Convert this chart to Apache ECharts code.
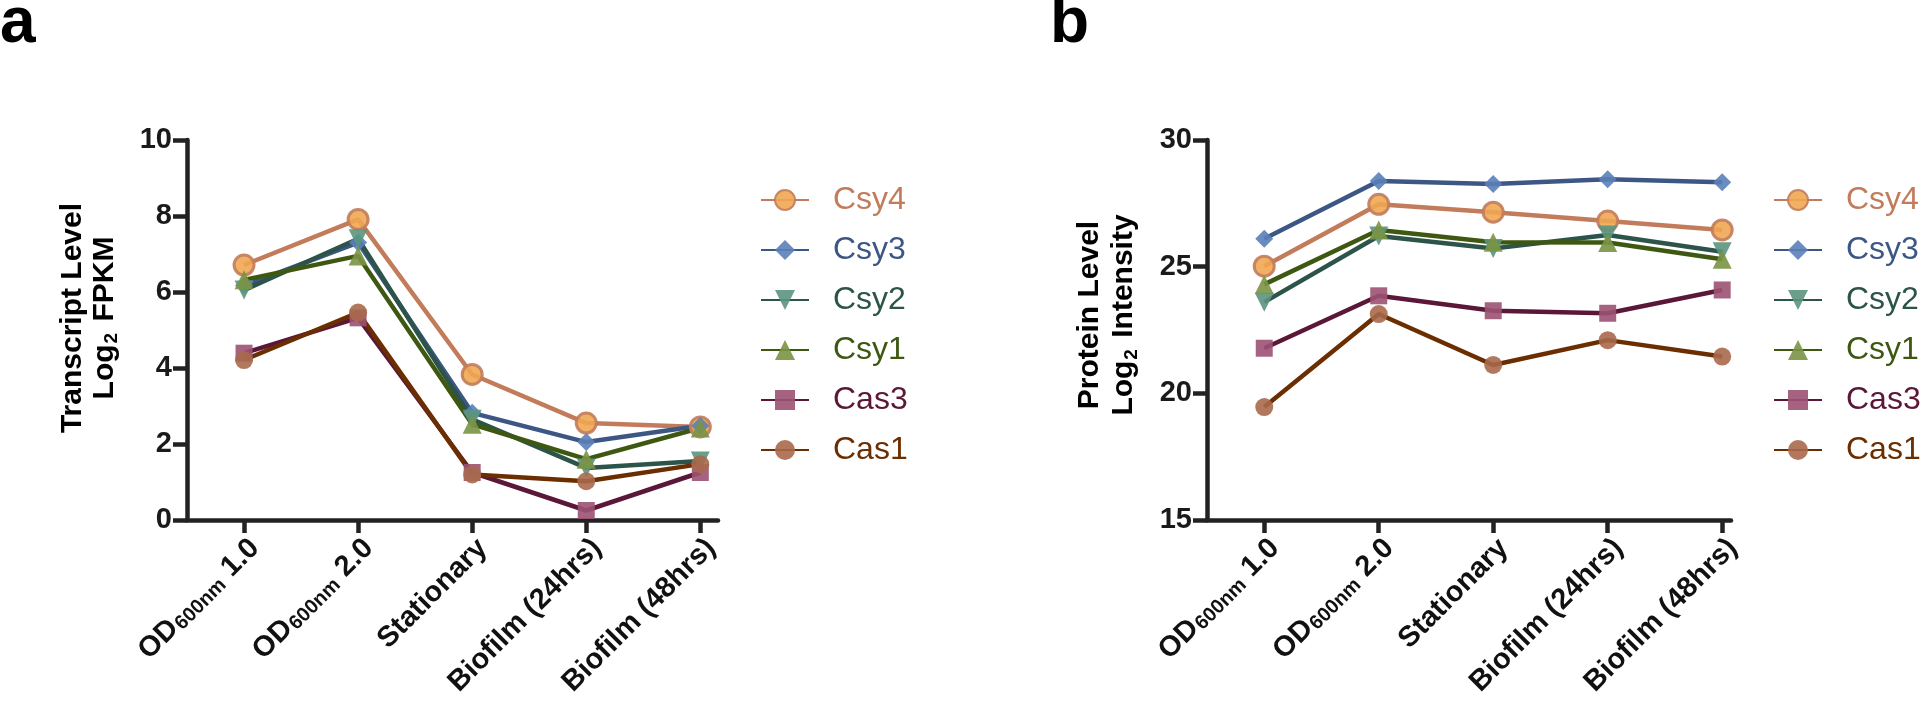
<!DOCTYPE html>
<html>
<head>
<meta charset="utf-8">
<script src="https://cdn.jsdelivr.net/npm/echarts@6/dist/echarts.min.js"></script>
<style>
html,body{margin:0;padding:0;background:#fff;}
#chart{width:1920px;height:701px;}
</style>
</head>
<body>
<div id="chart"></div>
<script>
// ---- data ----
const categories = ['OD600nm 1.0', 'OD600nm 2.0', 'Stationary', 'Biofilm (24hrs)', 'Biofilm (48hrs)'];
const genes = ['Csy4', 'Csy3', 'Csy2', 'Csy1', 'Cas3', 'Cas1'];

// panel a: Transcript level, log2 FPKM
const transcriptCsy4 = [6.71, 7.91, 3.83, 2.55, 2.45];
const transcriptCsy3 = [6.17, 7.30, 2.82, 2.05, 2.48];
const transcriptCsy2 = [6.05, 7.40, 2.65, 1.37, 1.55];
const transcriptCsy1 = [6.32, 6.95, 2.52, 1.60, 2.42];
const transcriptCas3 = [4.39, 5.32, 1.25, 0.25, 1.25];
const transcriptCas1 = [4.21, 5.46, 1.20, 1.02, 1.47];

// panel b: Protein level, log2 intensity
const proteinCsy4 = [25.02, 27.46, 27.15, 26.80, 26.45];
const proteinCsy3 = [26.10, 28.38, 28.26, 28.45, 28.33];
const proteinCsy2 = [23.60, 26.21, 25.72, 26.25, 25.59];
const proteinCsy1 = [24.30, 26.45, 25.96, 25.95, 25.29];
const proteinCas3 = [21.78, 23.85, 23.26, 23.16, 24.08];
const proteinCas1 = [19.46, 23.13, 21.12, 22.10, 21.45];

const yTicksA = [0, 10, 2];   // min, max, interval
const yTicksB = [15, 30, 5];

// ---- styles ----
const FONT = '"Liberation Sans", Arial, Helvetica, sans-serif';
const AXIS = '#222222';
const styles = {
  Csy4: {line: '#C27C5B', fill: '#F0A752', border: '#C27C5B', bw: 3, symbol: 'circle', size: 20, text: '#C27C5B'},
  Csy3: {line: '#3D5784', fill: '#5B80B8', border: '#5B80B8', bw: 0, symbol: 'diamond', size: 18, text: '#3D5784'},
  Csy2: {line: '#2D544A', fill: '#5B9580', border: '#5B9580', bw: 0, symbol: 'path://M0,0L10,0L5,9Z', size: 19, text: '#2D544A'},
  Csy1: {line: '#3E5812', fill: '#7A9445', border: '#7A9445', bw: 0, symbol: 'triangle', size: 19, text: '#3E5812'},
  Cas3: {line: '#5A1738', fill: '#9C5273', border: '#9C5273', bw: 0, symbol: 'rect', size: 17, text: '#5A1738'},
  Cas1: {line: '#6B2E00', fill: '#A8694C', border: '#A8694C', bw: 0, symbol: 'circle', size: 18, text: '#6B2E00'}
};

const dataA = {Csy4: transcriptCsy4, Csy3: transcriptCsy3, Csy2: transcriptCsy2, Csy1: transcriptCsy1, Cas3: transcriptCas3, Cas1: transcriptCas1};
const dataB = {Csy4: proteinCsy4, Csy3: proteinCsy3, Csy2: proteinCsy2, Csy1: proteinCsy1, Cas3: proteinCas3, Cas1: proteinCas1};

const idx = categories.map((c, i) => i);

function labelFmt(v) {
  const s = categories[v];
  if (s === undefined) return '';
  const m = s.match(/^OD600nm (.*)$/);
  if (m) return '{b|OD}{s|600nm}{b| ' + m[1] + '}';
  return '{b|' + s + '}';
}

function mkX(gi, max) {
  return {
    type: 'value', gridIndex: gi, min: -0.5, max: max,
    axisLine: {show: true, onZero: false, lineStyle: {color: AXIS, width: 4.5}},
    axisTick: {show: true, customValues: idx, length: 13, lineStyle: {color: AXIS, width: 4.5}},
    axisLabel: {
      customValues: idx, rotate: 45, margin: 13, formatter: labelFmt, color: '#111',
      align: 'right', verticalAlign: 'top',
      rich: {
        b: {fontSize: 29, fontWeight: 'bold', fontFamily: FONT, color: '#111', lineHeight: 30, verticalAlign: 'middle'},
        s: {fontSize: 20, fontWeight: 'bold', fontFamily: FONT, color: '#111', lineHeight: 20, verticalAlign: 'bottom', padding: [0, 1, 0, 1]}
      }
    },
    splitLine: {show: false}
  };
}
function mkY(gi, t) {
  return {
    type: 'value', gridIndex: gi, min: t[0], max: t[1], interval: t[2],
    axisLine: {show: true, onZero: false, lineStyle: {color: AXIS, width: 4.5}},
    axisTick: {show: true, length: 14, lineStyle: {color: AXIS, width: 4.5}},
    axisLabel: {fontSize: 29, fontWeight: 'bold', fontFamily: FONT, color: '#1a1a1a', margin: 15},
    splitLine: {show: false}
  };
}
function mkLegend(left) {
  return {
    orient: 'vertical', left: left, top: 179, itemWidth: 48, itemHeight: 25, itemGap: 18,
    selectedMode: false,
    data: genes.map(g => ({name: g, textStyle: {color: styles[g].text}})),
    textStyle: {fontSize: 32, fontFamily: FONT, lineHeight: 32, padding: [0, 0, 0, 19]}
  };
}
function mkSeries(gi, data) {
  return genes.map(g => {
    const st = styles[g];
    return {
      type: 'line', name: g, xAxisIndex: gi, yAxisIndex: gi,
      data: data[g].map((v, j) => [idx[j], v]),
      symbol: st.symbol, symbolSize: st.size,
      lineStyle: {color: st.line, width: 4.5},
      itemStyle: {color: st.fill, borderColor: st.border, borderWidth: st.bw, opacity: 0.9},
      emphasis: {disabled: true},
      z: 2
    };
  });
}

const chart = echarts.init(document.getElementById('chart'), null, {renderer: 'canvas'});
chart.setOption({
  animation: false,
  backgroundColor: '#ffffff',
  textStyle: {fontFamily: FONT},
  grid: [
    {left: 187, top: 140, width: 531, height: 380},
    {left: 1207, top: 140, width: 524, height: 380}
  ],
  xAxis: [mkX(0, 4.155), mkX(1, 4.077)],
  yAxis: [mkY(0, yTicksA), mkY(1, yTicksB)],
  legend: [mkLegend(755), mkLegend(1768)],
  series: mkSeries(0, dataA).concat(mkSeries(1, dataB)),
  graphic: [
    {type: 'text', x: 0, y: 24, style: {text: 'a', font: 'bold 64px ' + FONT, fill: '#000', verticalAlign: 'middle'}},
    {type: 'text', x: 1050, y: 24, style: {text: 'b', font: 'bold 64px ' + FONT, fill: '#000', verticalAlign: 'middle'}},
    {type: 'text', x: 89, y: 318, rotation: Math.PI / 2,
      style: {text: 'Transcript Level\nLog{s|2} FPKM', font: 'bold 30px ' + FONT, fill: '#000', align: 'center', verticalAlign: 'middle', lineHeight: 32,
        rich: {s: {fontSize: 19, fontWeight: 'bold', fontFamily: FONT, fill: '#000', verticalAlign: 'bottom', lineHeight: 22, padding: [0, 3, 0, 1]}}}},
    {type: 'text', x: 1107, y: 315, rotation: Math.PI / 2,
      style: {text: 'Protein Level\nLog{s|2} Intensity', font: 'bold 30px ' + FONT, fill: '#000', align: 'center', verticalAlign: 'middle', lineHeight: 34,
        rich: {s: {fontSize: 19, fontWeight: 'bold', fontFamily: FONT, fill: '#000', verticalAlign: 'bottom', lineHeight: 22, padding: [0, 3, 0, 1]}}}}
  ]
});
</script>
</body>
</html>
